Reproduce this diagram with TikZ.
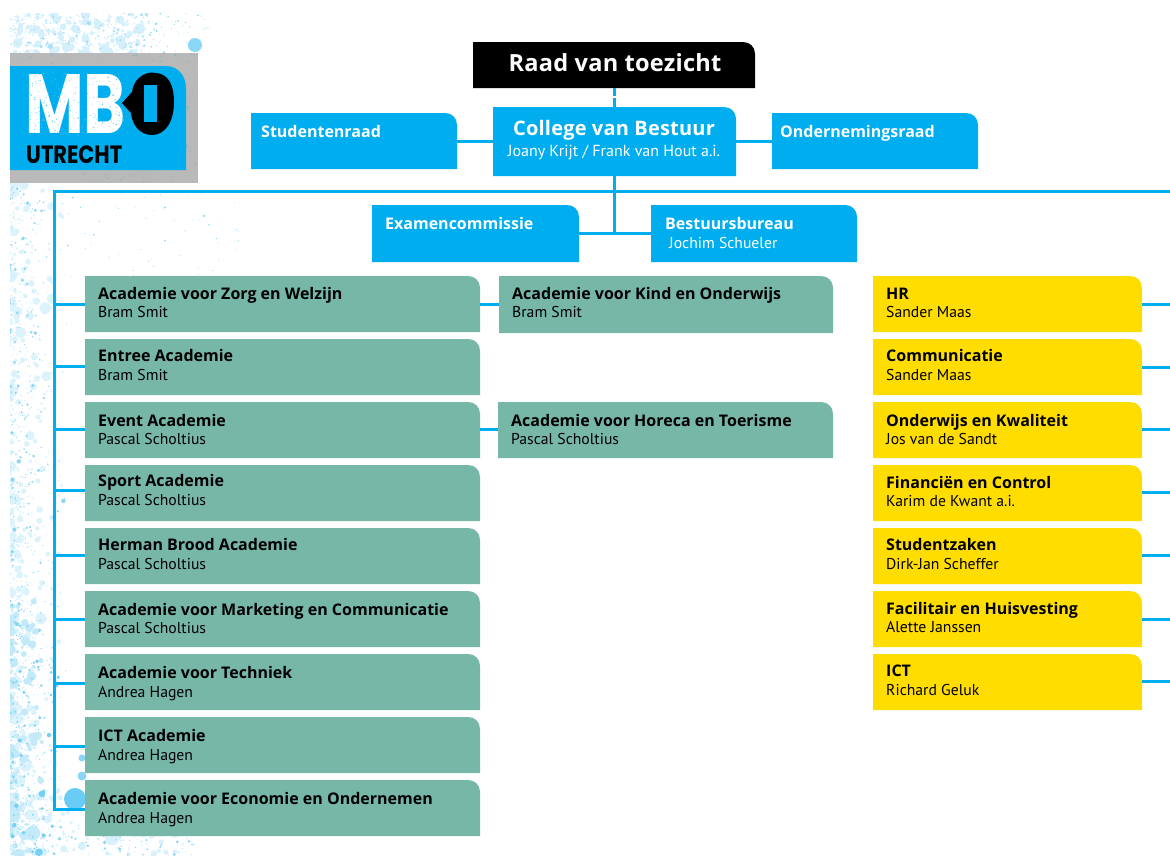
\documentclass[tikz,border=0pt]{standalone}
\usepackage{fontspec}
\setmainfont{PT Sans}
\newfontfamily\headfont{Open Sans}
\newfontfamily\titlefont[LetterSpace=1.0]{Open Sans}
\newfontfamily\logofont{Poppins}
\definecolor{mboblue}{HTML}{00AEEF}
\definecolor{mbogreen}{HTML}{76B7A8}
\definecolor{mboyellow}{HTML}{FFDD00}
\definecolor{mbogray}{HTML}{B9B9B9}
\definecolor{splat}{HTML}{8AD6F6}
\definecolor{splatb}{HTML}{C4EAFA}
\tikzset{
  x=1pt,y=-1pt,
  conn/.style={draw=mboblue,line width=3pt},
  anchorbox/.style={inner sep=0pt,outer sep=0pt,rectangle},
  titletext/.style={anchor=base west,inner sep=0pt,font=\headfont\fontsize{16}{18}\selectfont\bfseries},
  subtext/.style={anchor=base west,inner sep=0pt,font=\fontsize{15.7}{17}\selectfont},
}
% name, x1, y1, x2, y2, colour
\newcommand{\orgbox}[6]{%
  \fill[#6] (#2,#3) -- (#4-12,#3) .. controls (#4-5,#3) and (#4,#3+5) .. (#4,#3+12) -- (#4,#5) -- (#2,#5) -- cycle;
  \node[anchorbox,minimum width=#4pt-#2pt,minimum height=#5pt-#3pt] (#1) at ({(#2+#4)/2},{(#3+#5)/2}) {};
}
% name, x1, y1, x2, y2, colour, text colour, title, sub, title baseline, sub baseline
\newcommand{\entry}[9]{\orgbox{#1}{#2}{#3}{#4}{#5}{#6}\def\ecol{#7}\def\etitle{#8}\def\esub{#9}\entryb{#1}{#2}}
\newcommand{\entryb}[4]{%
  \node[titletext,text=\ecol] (#1-t) at (#2+13,#3+6) {\etitle};
  \node[subtext,text=\ecol] (#1-s) at (#2+13,#4+5) {\esub};
}
\newcommand{\splats}[7]{% count,x0,y0,w,h,maxr,colour
  \foreach \i in {1,...,#1}{%
    \pgfmathsetmacro{\sx}{#2+#4*rnd*rnd}%
    \pgfmathsetmacro{\sy}{#3+#5*rnd}%
    \pgfmathsetmacro{\sr}{0.4+#6*rnd*rnd*rnd}%
    \fill[#7] (\sx,\sy) circle[radius=\sr pt];
  }%
}
\newcommand{\splatsu}[7]{% uniform x
  \foreach \i in {1,...,#1}{%
    \pgfmathsetmacro{\sx}{#2+#4*rnd}%
    \pgfmathsetmacro{\sy}{#3+#5*rnd}%
    \pgfmathsetmacro{\sr}{0.4+#6*rnd*rnd*rnd}%
    \fill[#7] (\sx,\sy) circle[radius=\sr pt];
  }%
}
\begin{document}
\begin{tikzpicture}
\useasboundingbox (0,0) rectangle (1170,855);
\pgfmathsetseed{4242}
% ---------- splatter
\begin{scope}
\clip (10,13) rectangle (1170,855);
% soft blotches
\splats{900}{10}{183}{58}{672}{8}{splatb!60!white}
\splatsu{420}{10}{13}{135}{42}{7}{splatb!70!white}
\splatsu{220}{10}{790}{180}{65}{8}{splatb!65!white}
\splats{300}{10}{600}{45}{255}{9}{splatb}
% sharper specks
\splats{520}{10}{185}{66}{670}{2.4}{splat}
\splatsu{80}{10}{660}{50}{195}{6}{splat!85!mboblue}
\splatsu{190}{10}{13}{140}{42}{3}{splat!75!white}
\splatsu{50}{150}{13}{60}{42}{1.4}{splat}
\splatsu{50}{60}{190}{180}{90}{1.3}{splat}
\splatsu{110}{15}{825}{180}{30}{2.4}{splat}
\fill[splat] (195,45) circle[radius=7pt];
\fill[splat!75!mboblue] (75,799) circle[radius=11pt];
\fill[splat] (82,776) circle[radius=4.5pt];
\fill[splat] (82,758) circle[radius=3.5pt];
\end{scope}
% ---------- logo
\fill[mbogray] (10,53) rectangle (198,183);
\begin{scope}
\clip (10,53) rectangle (198,183);
\splatsu{26}{12}{54}{184}{12}{3}{mbogray!78!mboblue}
\splatsu{22}{60}{171}{135}{11}{2.5}{mbogray!78!mboblue}
\splatsu{10}{186}{66}{11}{100}{2.5}{mbogray!78!mboblue}
\end{scope}
\fill[mboblue] (10,66) -- (166,66) .. controls (178,66) and (186,76) .. (186,88) -- (186,170) -- (10,170) -- cycle;
\node[anchor=base west,inner sep=0pt,text=white,font=\logofont\fontsize{84}{84}\selectfont\bfseries] (mblogo) at (25,133) {\scalebox{.76}[1]{MB}};
\begin{scope}
\clip (26,72) rectangle (128,136);
\splatsu{220}{26}{72}{102}{64}{0.6}{mboblue!70!white}
\end{scope}
\fill[black] (122,103) -- (132,92) .. controls (134,75) and (150,71) .. (155,73) .. controls (168,73) and (174,85) .. (174,102) .. controls (174,122) and (165,135) .. (152,135) .. controls (140,135) and (132,125) .. (131,113) -- cycle;
\fill[mboblue] (144,85) rectangle (157,122);
\node[anchor=base west,inner sep=0pt,text=black,font=\logofont\fontsize{25}{25}\selectfont\bfseries] (utrecht) at (26,163) {\scalebox{.84}[1]{UTRECHT}};
% ---------- connectors' boxes
\orgbox{raad}{473}{42}{755}{88}{black}
\orgbox{college}{493}{107}{736}{176}{mboblue}
\orgbox{studenten}{251}{113}{457}{169}{mboblue}
\orgbox{ondernemings}{772}{113}{978}{169}{mboblue}
\orgbox{examen}{372}{205}{579}{262}{mboblue}
\orgbox{bestuurs}{651}{205}{857}{262}{mboblue}
\node[anchor=base,inner sep=0pt,text=white,font=\titlefont\fontsize{23.6}{28}\selectfont\bfseries] (raad-t) at (615,71) {Raad van toezicht};
\node[anchor=base,inner sep=0pt,text=white,font=\titlefont\fontsize{20}{24}\selectfont\bfseries] (college-t) at (614,135) {College van Bestuur};
\node[anchor=base,inner sep=0pt,text=white,font=\fontsize{16}{17}\selectfont] (college-s) at (614,156) {Joany Krijt / Frank van Hout a.i.};
\node[titletext,text=white] (studenten-t) at (261,137) {Studentenraad};
\node[titletext,text=white] (ondernemings-t) at (780,137) {Ondernemingsraad};
\node[titletext,text=white] (examen-t) at (385,229) {Examencommissie};
\node[titletext,text=white] (bestuurs-t) at (665,229) {Bestuursbureau};
\node[subtext,text=white] (bestuurs-s) at (669,248) {Jochim Schueler};
% ---------- green
\entry{g1}{85}{276}{480}{332}{mbogreen}{black}{Academie voor Zorg en Welzijn}{Bram Smit}{293}{312}
\entry{g2}{85}{339}{480}{395}{mbogreen}{black}{Entree Academie}{Bram Smit}{355}{375}
\entry{g3}{85}{402}{480}{458}{mbogreen}{black}{Event Academie}{Pascal Scholtius}{420}{439}
\entry{g4}{85}{465}{480}{521}{mbogreen}{black}{Sport Academie}{Pascal Scholtius}{480}{500}
\entry{g5}{85}{528}{480}{584}{mbogreen}{black}{Herman Brood Academie}{Pascal Scholtius}{544}{564}
\entry{g6}{85}{591}{480}{647}{mbogreen}{black}{Academie voor Marketing en Communicatie}{Pascal Scholtius}{609}{628}
\entry{g7}{85}{654}{480}{710}{mbogreen}{black}{Academie voor Techniek}{Andrea Hagen}{672}{692}
\entry{g8}{85}{717}{480}{773}{mbogreen}{black}{ICT Academie}{Andrea Hagen}{735}{755}
\entry{g9}{85}{780}{480}{836}{mbogreen}{black}{Academie voor Economie en Ondernemen}{Andrea Hagen}{798}{818}
\entry{k1}{499}{276}{833}{333}{mbogreen}{black}{Academie voor Kind en Onderwijs}{Bram Smit}{293}{312}
\entry{k2}{498}{402}{833}{458}{mbogreen}{black}{Academie voor Horeca en Toerisme}{Pascal Scholtius}{420}{439}
% ---------- yellow
\entry{y1}{873}{276}{1142}{332}{mboyellow}{black}{HR}{Sander Maas}{293}{312}
\entry{y2}{873}{339}{1142}{395}{mboyellow}{black}{Communicatie}{Sander Maas}{355}{375}
\entry{y3}{873}{402}{1142}{458}{mboyellow}{black}{Onderwijs en Kwaliteit}{Jos van de Sandt}{420}{439}
\entry{y4}{873}{465}{1142}{521}{mboyellow}{black}{Financiën en Control}{Karim de Kwant a.i.}{482}{501}
\entry{y5}{873}{528}{1142}{584}{mboyellow}{black}{Studentzaken}{Dirk-Jan Scheffer}{544}{564}
\entry{y6}{873}{591}{1142}{647}{mboyellow}{black}{Facilitair en Huisvesting}{Alette Janssen}{608}{627}
\entry{y7}{873}{654}{1142}{710}{mboyellow}{black}{ICT}{Richard Geluk}{670}{690}
% ---------- free ends
\coordinate (busL) at (54,191);
\coordinate (busR) at (1170,191);
\coordinate (busM) at (614,191);
\coordinate (spine) at (614,233);
\foreach \n/\yy in {r1/304,r2/367,r3/429,r4/492,r5/555,r6/619,r7/681}{\coordinate (\n) at (1170,\yy);}
\foreach \n/\yy in {l1/304,l2/366,l3/429,l4/490,l5/555,l6/619,l7/683,l8/746,l9/809}{\coordinate (\n) at (54,\yy);}
% ---------- connectors
\draw[conn] (raad.south -| busM) -- (college.north -| busM);
\fill[white] (612,96) rectangle (616,98);
\draw[conn] (studenten.east) -- (studenten.east -| college.west);
\draw[conn] (ondernemings.west) -- (ondernemings.west -| college.east);
\draw[conn] (college.south -| busM) -- (spine);
\draw[conn,line cap=rect] (busL) -- (busR);
\draw[conn] (examen.east |- spine) -- (bestuurs.west |- spine);
\draw[conn,line cap=rect] (busL) -- (l9);
\foreach \i in {1,...,9}{\draw[conn] (l\i) -- (l\i -| g\i.west);}
\draw[conn] (g1.east |- l1) -- (k1.west |- l1);
\draw[conn] (g3.east |- l3) -- (k2.west |- l3);
\foreach \i in {1,...,7}{\draw[conn] (y\i.east |- r\i) -- (r\i);}
\end{tikzpicture}
\end{document}
